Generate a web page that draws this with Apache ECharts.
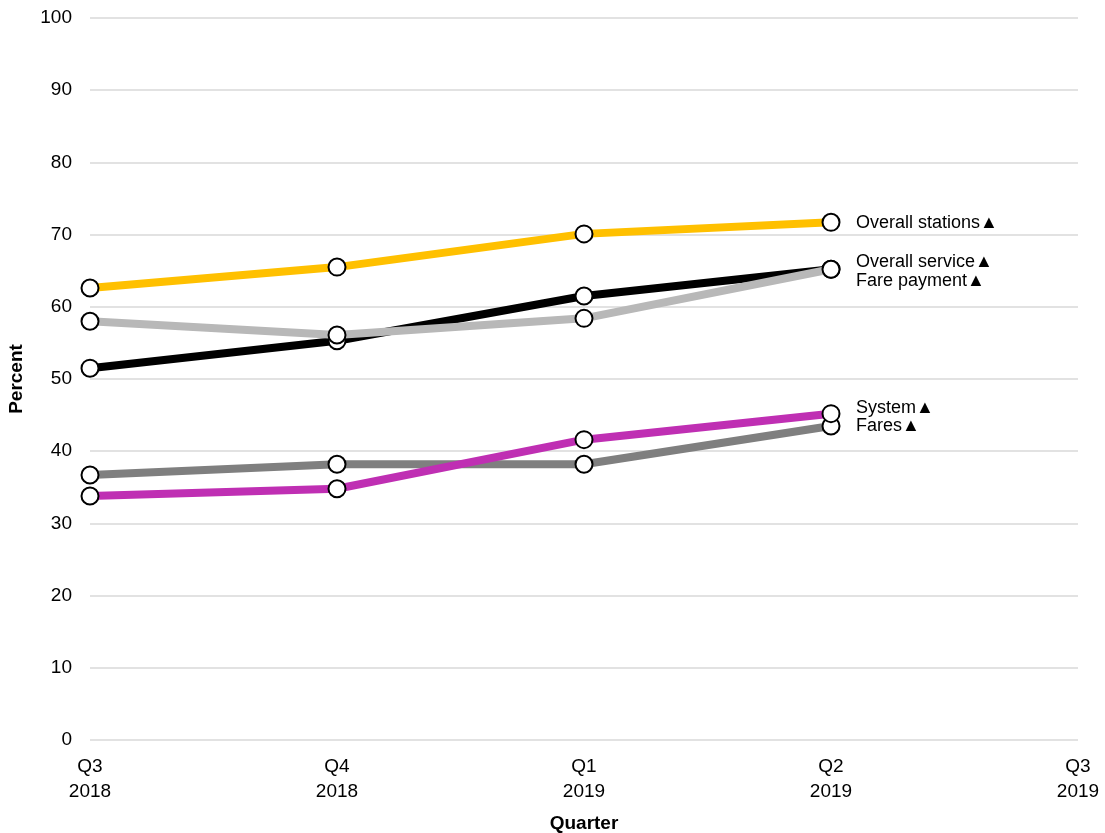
<!DOCTYPE html>
<html>
<head>
<meta charset="utf-8">
<script src="https://cdn.jsdelivr.net/npm/echarts@6/dist/echarts.min.js"></script>
<style>
  html, body { margin: 0; padding: 0; background: #fff; }
  #chart { width: 1105px; height: 833px; }
</style>
</head>
<body>
<div id="chart"></div>
<script>
// Quarter categories (two-line labels)
const quarters = ['Q3\n2018', 'Q4\n2018', 'Q1\n2019', 'Q2\n2019', 'Q3\n2019'];

// Percent values by quarter
const overallStations = [62.6, 65.5, 70.1, 71.7];
const overallService  = [51.5, 55.3, 61.5, 65.2];
const farePayment     = [58.0, 56.1, 58.4, 65.2];
const systemVals      = [33.8, 34.8, 41.6, 45.2];
const faresVals       = [36.7, 38.2, 38.2, 43.5];

const seriesNames = ['Overall stations', 'Overall service', 'Fare payment', 'System', 'Fares'];

const FONT = '"Liberation Sans", Arial, sans-serif';

function makeSeries(name, data, color, z, labelOffsetY) {
  return {
    name: name,
    type: 'line',
    data: data,
    z: z,
    symbol: 'circle',
    symbolSize: 17,
    showSymbol: true,
    lineStyle: { color: color, width: 8 },
    itemStyle: { color: '#ffffff', borderColor: '#000000', borderWidth: 2 },
    emphasis: { disabled: true },
    endLabel: {
      show: true,
      formatter: name + '\u25B2',
      color: '#000',
      fontFamily: FONT,
      fontSize: 18,
      distance: 25,
      offset: [0, labelOffsetY]
    }
  };
}

const chart = echarts.init(document.getElementById('chart'), null, { renderer: 'canvas' });
chart.setOption({
  animation: false,
  backgroundColor: '#ffffff',
  grid: { left: 90, right: 27, top: 18, bottom: 93, containLabel: false, outerBoundsMode: 'none' },
  xAxis: {
    type: 'category',
    data: quarters,
    boundaryGap: false,
    name: 'Quarter',
    nameLocation: 'middle',
    nameGap: 74,
    nameTextStyle: { fontFamily: FONT, fontSize: 19, fontWeight: 'bold', color: '#000' },
    axisLine: { show: false },
    axisTick: { show: false },
    axisLabel: { fontFamily: FONT, fontSize: 19, color: '#000', lineHeight: 25, margin: 14 },
    splitLine: { show: false }
  },
  yAxis: {
    type: 'value',
    min: 0,
    max: 100,
    interval: 10,
    name: 'Percent',
    nameLocation: 'middle',
    nameGap: 64,
    nameTextStyle: { fontFamily: FONT, fontSize: 19, fontWeight: 'bold', color: '#000' },
    axisLine: { show: false },
    axisTick: { show: false },
    axisLabel: { fontFamily: FONT, fontSize: 19, color: '#000', margin: 18 },
    splitLine: { show: true, lineStyle: { color: '#d9d9d9', width: 1.5 } }
  },
  series: [
    makeSeries(seriesNames[4], faresVals, '#7f7f7f', 2, 0),
    makeSeries(seriesNames[3], systemVals, '#bf2fb3', 3, -6),
    makeSeries(seriesNames[2], farePayment, '#b8b8b8', 4, 12),
    makeSeries(seriesNames[1], overallService, '#000000', 3.5, -7),
    makeSeries(seriesNames[0], overallStations, '#ffc000', 5, 1)
  ]
});
</script>
</body>
</html>
